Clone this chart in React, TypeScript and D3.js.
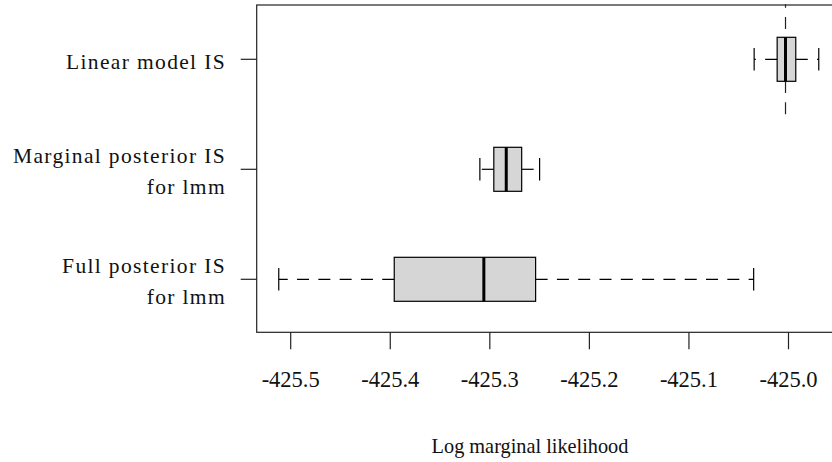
import React from 'react';
import * as d3 from 'd3';

// bottom to top, like R's boxplot
const groupLabels: string[][] = [
  ['Full posterior IS', 'for lmm'],
  ['Marginal posterior IS', 'for lmm'],
  ['Linear model IS'],
];
const lowerWhisker = [-425.512, -425.31, -425.0345];
const q1 = [-425.396, -425.296, -425.0114];
const median = [-425.306, -425.2835, -425.003];
const q3 = [-425.254, -425.268, -424.9927];
const upperWhisker = [-425.035, -425.25, -424.9696];
const xTicks = [-425.5, -425.4, -425.3, -425.2, -425.1, -425.0];
const referenceValue = -425.003;
const xTitle = 'Log marginal likelihood';

const W = 832;
const H = 462;
const frame = { left: 256.7, top: 5, right: 845, bottom: 332.3 };
const FONT = "'Liberation Serif'";

const x = d3.scaleLinear().domain([-425.5, -425.0]).range([290.7, 788.5]);
const y = d3.scaleLinear().domain([1, 3]).range([279.3, 59.3]);
const boxHalf = 22;
const capHalf = 11.2;
const dash = '12,9.3';

const App: React.FC = () => {
  const idx = d3.range(groupLabels.length);
  return (
    <svg
      width={W}
      height={H}
      style={{ position: 'absolute', left: 0, top: 0, background: '#fff' }}
    >
      {/* reference line over the top group */}
      <line
        x1={x(referenceValue)} x2={x(referenceValue)}
        y1={y(2.5)} y2={y(3.5)}
        stroke="#222" strokeWidth={1.2} strokeDasharray={dash}
      />
      {idx.map((i) => {
        const cy = y(i + 1);
        return (
          <g key={i}>
            <line x1={x(q1[i])} x2={x(lowerWhisker[i])} y1={cy} y2={cy}
              stroke="#000" strokeWidth={1.2} strokeDasharray={dash} />
            <line x1={x(q3[i])} x2={x(upperWhisker[i])} y1={cy} y2={cy}
              stroke="#000" strokeWidth={1.2} strokeDasharray={dash} />
            {[lowerWhisker[i], upperWhisker[i]].map((v, k) => (
              <line key={k} x1={x(v)} x2={x(v)} y1={cy - capHalf} y2={cy + capHalf}
                stroke="#000" strokeWidth={1.2} />
            ))}
            <rect
              x={x(q1[i])} y={cy - boxHalf}
              width={x(q3[i]) - x(q1[i])} height={boxHalf * 2}
              fill="#d6d6d6" stroke="#000" strokeWidth={1.2}
            />
            <line x1={x(median[i])} x2={x(median[i])} y1={cy - boxHalf} y2={cy + boxHalf}
              stroke="#000" strokeWidth={3} />
          </g>
        );
      })}

      {/* frame */}
      <rect
        x={frame.left} y={frame.top}
        width={frame.right - frame.left} height={frame.bottom - frame.top}
        fill="none" stroke="#222" strokeWidth={1.2}
      />

      {/* x axis */}
      {xTicks.map((t) => (
        <g key={t}>
          <line x1={x(t)} x2={x(t)} y1={frame.bottom} y2={frame.bottom + 17}
            stroke="#222" strokeWidth={1.2} />
          <text x={x(t)} y={387} textAnchor="middle" fontSize={22.5}
            fill="#111" style={{ fontFamily: FONT }}>
            {t.toFixed(1)}
          </text>
        </g>
      ))}
      <text x={530} y={453} textAnchor="middle" fontSize={20.3}
        fill="#111" style={{ fontFamily: FONT }}>
        {xTitle}
      </text>

      {/* y axis */}
      {idx.map((i) => {
        const cy = y(i + 1);
        const lines = groupLabels[i];
        const base = lines.length === 1 ? cy + 10 : cy - 6.5;
        return (
          <g key={i}>
            <line x1={frame.left - 16} x2={frame.left} y1={cy} y2={cy}
              stroke="#222" strokeWidth={1.2} />
            {lines.map((ln, j) => (
              <text key={j} x={226} y={base + j * 31.6} textAnchor="end"
                fontSize={21.5} letterSpacing={1.35} fill="#111"
                style={{ fontFamily: FONT }}>
                {ln}
              </text>
            ))}
          </g>
        );
      })}
    </svg>
  );
};

export default App;
